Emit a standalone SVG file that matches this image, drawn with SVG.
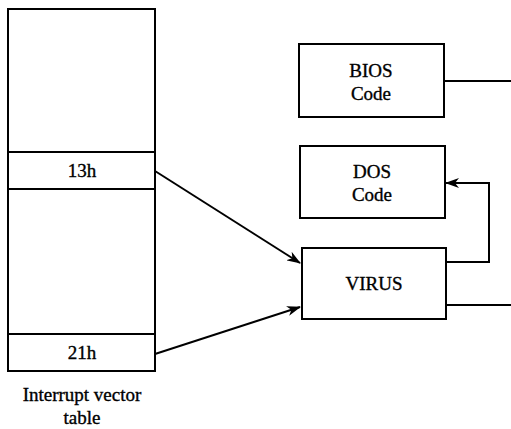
<svg xmlns="http://www.w3.org/2000/svg" width="511" height="429" viewBox="0 0 511 429">
<style>
.box{fill:#fff;stroke:#000;stroke-width:2}
.t{font-family:'Liberation Serif','Times New Roman','DejaVu Serif',serif;font-size:19px;text-anchor:middle;fill:#000;stroke:#000;stroke-width:0.35}
.c{fill:none;stroke:#000;stroke-width:2}
</style>
<defs>
<marker id="ah" markerWidth="14" markerHeight="10" refX="13" refY="5" orient="auto" markerUnits="userSpaceOnUse">
<path d="M0,0 L14,5 L0,10 L4,5 Z" fill="#000"/>
</marker>
</defs>
<rect width="511" height="429" fill="#fff"/>
<g id="ivt">
<rect class="box" x="8" y="9" width="147" height="362"/>
<line class="c" x1="8" y1="152" x2="155" y2="152"/>
<line class="c" x1="8" y1="189" x2="155" y2="189"/>
<line class="c" x1="8" y1="334" x2="155" y2="334"/>
<text class="t" x="82" y="177">13h</text>
<text class="t" x="82" y="359">21h</text>
<text class="t" x="82" y="401">Interrupt vector</text>
<text class="t" x="82" y="424">table</text>
</g>
<g id="bios">
<rect class="box" x="299" y="44" width="145" height="73"/>
<text class="t" x="371" y="77">BIOS</text>
<text class="t" x="371" y="100">Code</text>
</g>
<g id="dos">
<rect class="box" x="300" y="146" width="145" height="72"/>
<text class="t" x="372" y="178">DOS</text>
<text class="t" x="372" y="201">Code</text>
</g>
<g id="virus">
<rect class="box" x="302" y="248" width="144" height="71"/>
<text class="t" x="374" y="290">VIRUS</text>
</g>
<g id="connectors">
<line class="c" x1="155" y1="171" x2="300" y2="263" marker-end="url(#ah)"/>
<line class="c" x1="155" y1="354" x2="300" y2="307" marker-end="url(#ah)"/>
<line class="c" x1="444" y1="81" x2="511" y2="81"/>
<polyline class="c" points="446,262 489,262 489,183 446,183" marker-end="url(#ah)"/>
<line class="c" x1="446" y1="305" x2="511" y2="305"/>
</g>
</svg>
